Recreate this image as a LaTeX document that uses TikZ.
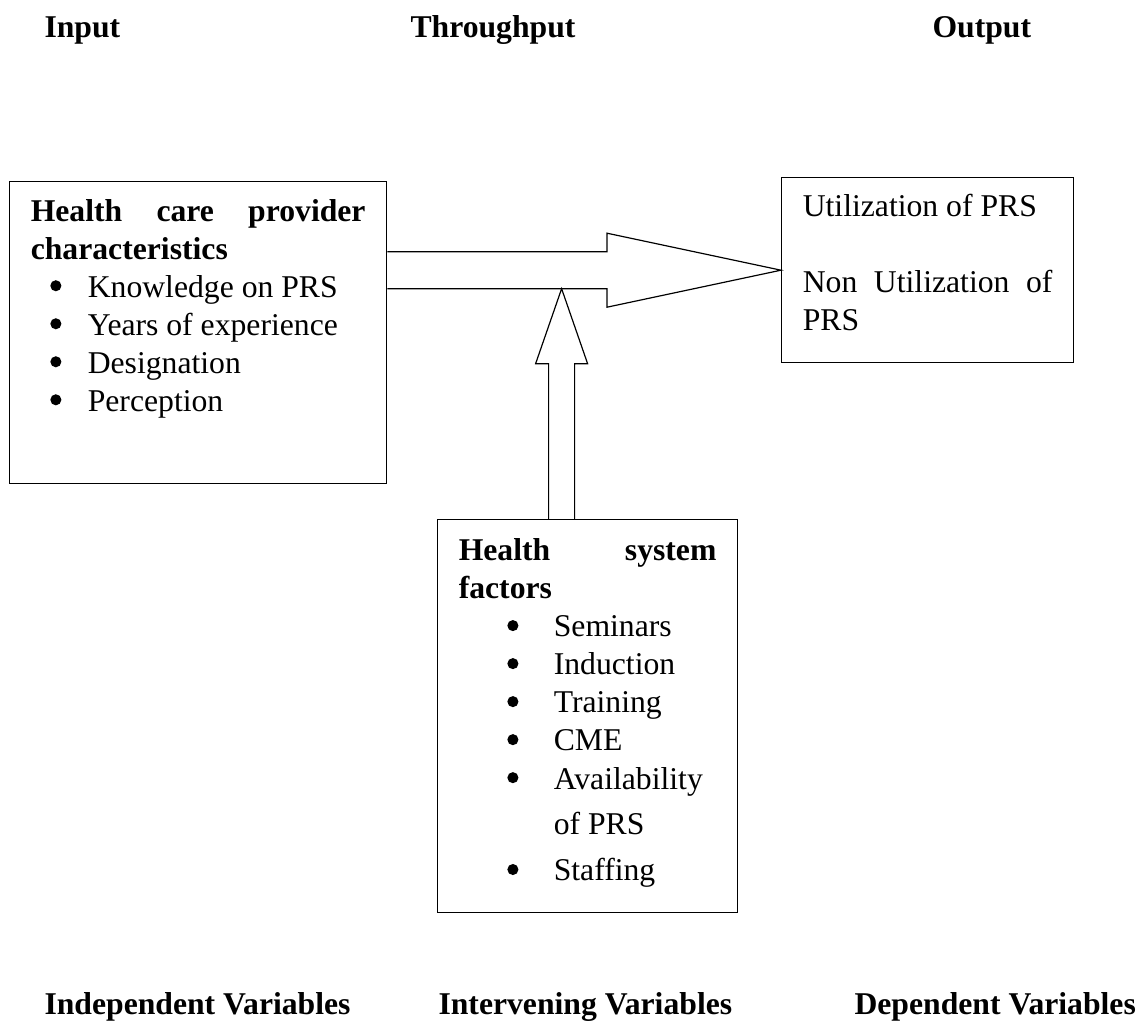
\documentclass[tikz,border=0pt]{standalone}
\usepackage{fontspec}
\setmainfont{Liberation Serif}
\usepackage{tikz}
\usetikzlibrary{calc}

\newcommand{\bigbullet}{\tikz[baseline=-4.3pt]\fill (2.1pt,0) circle (2.1pt);}
\newcommand{\pitem}[1]{\hspace*{7.4pt}\makebox[14.2pt][l]{\bigbullet}#1}
\newcommand{\sitem}[1]{\hspace*{18.4pt}\makebox[17.6pt][l]{\bigbullet}#1}
\newcommand{\spread}[1]{\makebox[\linewidth][s]{#1}}

\begin{document}
\begin{tikzpicture}[
    x=0.3788pt, y=-0.3788pt,
    font=\fontsize{12pt}{14.4pt}\selectfont,
    box/.style={rectangle, draw=black, line width=0.5pt, anchor=north west, inner xsep=8pt},
    heading/.style={anchor=base west, inner sep=0pt, font=\fontsize{12pt}{14.4pt}\selectfont\bfseries},
    hollow/.style={draw=black, line width=0.45pt, line join=miter}
]
\useasboundingbox (0,0) rectangle (1143,1021);

% Headings
\node [heading] (input) at (44,37) {Input};
\node [heading] (through) at (410,37) {Throughput};
\node [heading] (outhead) at (932,37) {Output};

% Boxes
\node [box, inner ysep=6.6pt] (provider) at (9,181) {\parbox[t][101.2pt][t]{126.8pt}{%
    \spread{\textbf{Health care provider}}\\
    \textbf{characteristics}\\
    \pitem{Knowledge on PRS}\\
    \pitem{Years of experience}\\
    \pitem{Designation}\\
    \pitem{Perception}}};
\node [box, inner ysep=6.2pt] (output) at (781,177) {\parbox[t][57.7pt][t]{94.6pt}{%
    Utilization of PRS\\[\baselineskip]
    \spread{Non Utilization of}\\
    PRS}};
\node [box, inner ysep=7.3pt] (health) at (437,519) {\parbox[t][134.3pt][t]{97.6pt}{%
    \spread{\textbf{Health system}}\\
    \textbf{factors}\\
    \sitem{Seminars}\\
    \sitem{Induction}\\
    \sitem{Training}\\
    \sitem{CME}\\
    \sitem{Availability}\\[3pt]
    \hspace*{36pt}of PRS\\[3pt]
    \sitem{Staffing}}};

% Variable labels
\node [heading] (indep) at (44,1014) {Independent Variables};
\node [heading] (interv) at (438,1014) {Intervening Variables};
\node [heading] (dep) at (854,1014) {Dependent Variables};

% Block arrows
\coordinate (tail) at (provider.east |- output.west);
\coordinate (vtail) at ($(health.north)+(-26,0)$);
\coordinate (vtip) at (vtail |- {$(tail)+(0,18.5)$});
\draw [hollow] ($(tail)+(0,-18.5)$) -- ($(output.west)+(-174,-18.5)$)
    -- ($(output.west)+(-174,-37)$) -- (output.west)
    -- ($(output.west)+(-174,37)$) -- ($(output.west)+(-174,18.5)$)
    -- ($(tail)+(0,18.5)$);
\draw [hollow] ($(vtail)+(-13,0)$) -- ($(vtip)+(-13,75)$)
    -- ($(vtip)+(-26,75)$) -- (vtip)
    -- ($(vtip)+(26,75)$) -- ($(vtip)+(13,75)$)
    -- ($(vtail)+(13,0)$);

\end{tikzpicture}
\end{document}
